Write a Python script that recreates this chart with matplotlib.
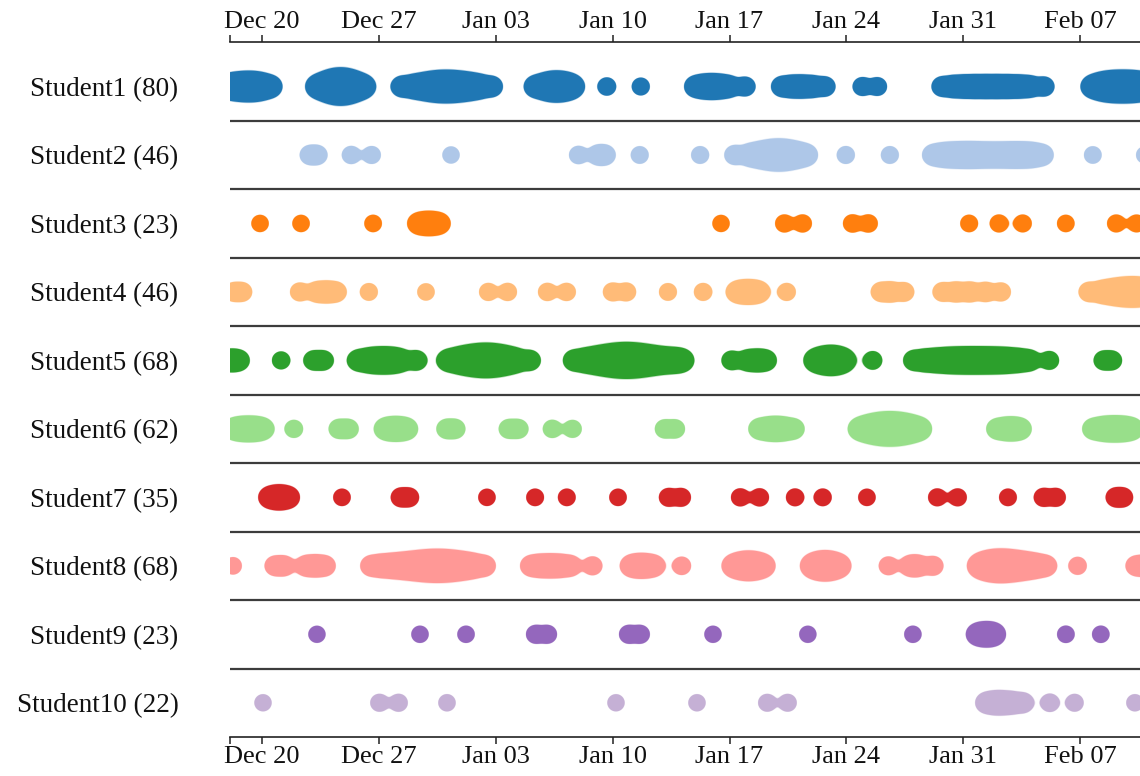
import numpy as np
import pandas as pd
import matplotlib
matplotlib.use("Agg")
import matplotlib.pyplot as plt
import matplotlib.dates as mdates
from matplotlib.ticker import FixedLocator

# ---- data: session times as day offsets from Dec 20, 2020 ----
start = pd.Timestamp("2020-12-20")
view_from = pd.Timestamp("2020-12-18 02:00")
view_to = pd.Timestamp("2021-02-10 14:00")

students = ["Student1", "Student2", "Student3", "Student4", "Student5",
            "Student6", "Student7", "Student8", "Student9", "Student10"]
session_counts = [80, 46, 23, 46, 68, 62, 35, 68, 23, 22]
colors = ["#1f77b4", "#aec7e8", "#ff7f0e", "#ffbb78", "#2ca02c",
          "#98df8a", "#d62728", "#ff9896", "#9467bd", "#c5b0d5"]

student1_days = [-2.40, -1.92, -1.50, -1.08, -0.72, -0.36, 0.00, 0.60,
                 3.23, 3.83, 4.19, 4.43, 4.61, 4.79, 4.97, 5.21, 5.57, 6.17,
                 8.32, 9.10, 9.70, 10.18, 10.54, 10.90, 11.26, 11.62, 12.04, 12.51, 13.05, 13.83,
                 16.29, 16.95, 17.31, 17.60, 17.90, 18.26, 18.68,
                 20.66, 22.69,
                 25.87, 26.41, 26.89, 27.37, 27.96, 28.98,
                 31.08, 31.74, 32.34, 32.99, 33.77,
                 35.93, 36.89,
                 40.66, 41.38, 42.04, 42.69, 43.35, 44.01, 44.67, 45.33, 45.99, 46.89,
                 49.64, 50.18, 50.54, 50.90, 51.26, 51.62, 51.98, 52.34, 52.69, 53.17, 53.65]
student2_days = [2.81, 3.35, 5.33, 6.59, 11.32,
                 18.92, 20.12, 20.60, 22.63, 26.23,
                 28.26, 29.22, 29.82, 30.30, 30.66, 30.96, 31.26, 31.62, 32.10, 32.69,
                 34.97, 37.60,
                 40.12, 40.72, 41.26, 41.80, 42.34, 42.87, 43.47, 44.07, 44.67, 45.21,
                 45.75, 46.23, 46.83,
                 49.76, 52.87]
student3_days = [-0.12, 2.34, 6.65, 9.28, 9.76, 10.24, 10.72,
                 27.49, 31.26, 32.40, 35.33, 36.35,
                 42.34, 44.13, 45.57, 48.14, 51.14, 52.40]
student4_days = [-1.74, -1.14, 2.22, 3.29, 3.89, 4.49, 6.41, 9.82,
                 13.53, 14.73, 17.07, 18.26, 20.96, 21.86, 24.31, 26.41,
                 28.38, 28.86, 29.34, 29.82, 31.44,
                 37.01, 37.66, 38.50,
                 40.72, 41.56, 42.40, 43.35, 44.31,
                 49.46, 50.30, 50.90, 51.38, 51.80, 52.16, 52.51, 52.87, 53.23]
student5_days = [-2.28, -1.80, -1.32, 1.14, 3.05, 3.71,
                 5.69, 6.35, 6.83, 7.31, 7.78, 8.26, 9.28,
                 11.08, 11.74, 12.22, 12.63, 12.99, 13.29, 13.59, 13.89, 14.25, 14.67,
                 15.21, 16.11,
                 18.62, 19.34, 19.94, 20.42, 20.84, 21.20, 21.50, 21.80, 22.10, 22.40,
                 22.75, 23.17, 23.65, 24.25, 24.85, 25.27,
                 28.08, 29.10, 29.70, 30.24,
                 33.05, 33.53, 33.89, 34.19, 34.49, 34.91, 36.59, 38.98,
                 39.70, 40.36, 40.96, 41.50, 42.04, 42.57, 43.11, 43.65, 44.19, 44.73,
                 45.33, 45.99, 47.19,
                 50.36, 50.96]
student6_days = [-1.80, -1.32, -0.84, -0.36, 0.12, 1.92, 4.55, 5.21,
                 7.31, 7.78, 8.26, 8.74, 11.02, 11.62, 14.73, 15.39, 17.37, 18.62,
                 24.07, 24.79,
                 29.70, 30.30, 30.78, 31.26, 31.92,
                 35.69, 36.23, 36.65, 37.01, 37.31, 37.60, 37.90, 38.20, 38.56, 38.98, 39.52,
                 43.95, 44.55, 45.03, 45.51,
                 49.70, 50.30, 50.78, 51.26, 51.74, 52.22]
student7_days = [0.36, 0.84, 1.20, 1.68, 4.79, 8.26, 8.86, 13.47, 16.35, 18.26,
                 21.32, 24.31, 25.15, 28.62, 29.82, 31.92, 33.59, 36.23,
                 40.42, 41.68, 44.67, 46.77, 47.60, 51.08, 51.62]
student8_days = [-1.74, 0.72, 1.32, 2.63, 3.23, 3.83,
                 6.47, 7.13, 7.78, 8.38, 8.92, 9.40, 9.82, 10.18, 10.54, 10.90, 11.26,
                 11.68, 12.16, 12.69, 13.41,
                 16.05, 16.65, 17.25, 17.84, 18.50, 19.82,
                 22.04, 22.51, 22.99, 23.53, 25.15,
                 28.14, 28.62, 28.98, 29.28, 29.64, 30.12,
                 32.87, 33.29, 33.59, 33.89, 34.19, 34.67,
                 37.49, 38.80, 39.28, 40.24,
                 42.87, 43.29, 43.65, 43.95, 44.25, 44.55, 44.91, 45.33, 45.81, 46.35, 47.01,
                 48.86, 52.28, 52.87, 53.47]
student9_days = [3.29, 9.46, 12.22, 16.35, 17.13, 21.92, 22.69, 27.01, 32.69, 38.98,
                 42.75, 43.17, 43.59, 43.95, 48.14, 50.24]
student10_days = [0.06, 7.01, 8.20, 11.08, 21.20, 26.05, 30.24, 31.50,
                  43.29, 43.83, 44.31, 44.91, 45.63, 47.19, 48.68, 52.28]

days_by_student = [student1_days, student2_days, student3_days, student4_days,
                   student5_days, student6_days, student7_days, student8_days,
                   student9_days, student10_days]

DOT_R = 8.6      # dot radius in pixels
TAIL = 2.5       # fall-off of the merge field (gooey look)

plt.rcParams['font.family'] = ['Liberation Serif', 'DejaVu Serif']

fig = plt.figure(figsize=(11.4, 7.76), dpi=100)
ax = fig.add_axes([230 / 1140, 39 / 776, 910 / 1140, 695 / 776])

x0 = mdates.date2num(view_from)
x1 = mdates.date2num(view_to)
base = mdates.date2num(start)
n = len(students)
ax.set_xlim(x0, x1)
ax.set_ylim(n - 0.5, -0.65)

bbox = ax.get_window_extent()
ppd = bbox.width / (x1 - x0)          # pixels per day
ppr = bbox.height / (n - 0.5 + 0.65)  # pixels per row

# grid in pixel units, centred on each row
gx = np.arange(-60, bbox.width + 60, 1.0)
gy = np.arange(-34, 34.01, 0.5)
GX, GY = np.meshgrid(gx, gy)

for i, (days, col) in enumerate(zip(days_by_student, colors)):
    ev_px = (base + np.asarray(days) - x0) * ppd
    F = np.zeros_like(GX)
    for e in ev_px:
        d = np.hypot(GX - e, GY)
        F += np.minimum(10.0, (DOT_R / np.maximum(d, 1e-3)) ** TAIL)
    X, Y = x0 + GX / ppd, i + GY / ppr
    # faint soft edge, then solid body
    ax.contourf(X, Y, F, levels=[0.93, 1e6], colors=[col], alpha=0.3, antialiased=True)
    ax.contourf(X, Y, F, levels=[1.0, 1e6], colors=[col], antialiased=True)

# row separators
ax.hlines(np.arange(n - 1) + 0.5, x0, x1, color="#3c3c3c", lw=1.6)

# axes styling: date axis top and bottom
for side in ("left", "right"):
    ax.spines[side].set_visible(False)
for side in ("top", "bottom"):
    ax.spines[side].set_linewidth(1.2)
    ax.spines[side].set_color("#222222")

ax.xaxis.set_major_locator(mdates.WeekdayLocator(byweekday=mdates.SU))
ax.xaxis.set_major_formatter(mdates.DateFormatter("%b %d"))
ax.xaxis.set_minor_locator(FixedLocator([x0]))
ax.tick_params(axis="x", which="both", top=True, bottom=True,
               labeltop=True, labelbottom=True, direction="out",
               length=5, width=1.1, color="#222222", pad=1.5,
               labelsize=19, labelcolor="#111111")

ax.set_yticks(range(n))
ax.set_yticklabels([f"{s} ({c})" for s, c in zip(students, session_counts)])
ax.tick_params(axis="y", length=0, pad=37, labelsize=19.5, labelcolor="#111111")

fig.savefig("out.png", dpi=100)
